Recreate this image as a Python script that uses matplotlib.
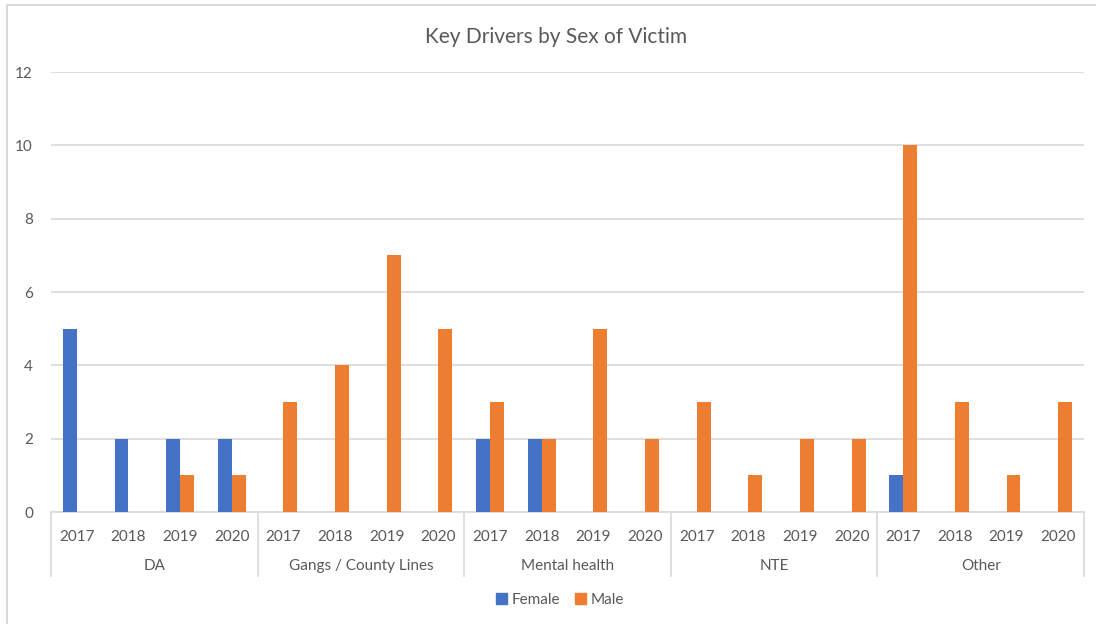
import matplotlib
matplotlib.use("Agg")
import matplotlib.pyplot as plt
import matplotlib.transforms as mtransforms
from matplotlib.patches import Rectangle, Patch
import numpy as np

plt.rcParams['font.family'] = ['Lato', 'DejaVu Sans']

groups = ["DA", "Gangs / County Lines", "Mental health", "NTE", "Other"]
years = ["2017", "2018", "2019", "2020"]
female = [5, 2, 2, 2,  0, 0, 0, 0,  2, 2, 0, 0,  0, 0, 0, 0,  1, 0, 0, 0]
male   = [0, 0, 1, 1,  3, 4, 7, 5,  3, 2, 5, 2,  3, 1, 2, 2,  10, 3, 1, 3]

blue = "#4472C4"
orange = "#ED7D31"
grey_text = "#595959"
grid_c = "#D9D9D9"

fig = plt.figure(figsize=(10.96, 6.24), dpi=100)
ax = fig.add_axes([51/1096, 1-512/624, (1084-51)/1096, (512-72)/624])

n = len(female)
x = np.arange(n)
w = 0.27
ax.bar(x - w/2, female, width=w, color=blue, label="Female", zorder=3)
ax.bar(x + w/2, male, width=w, color=orange, label="Male", zorder=3)

ax.set_xlim(-0.5, n - 0.5)
ax.set_ylim(0, 12)
ax.set_yticks(range(0, 13, 2))
ax.yaxis.grid(True, color=grid_c, linewidth=1.2, zorder=0)
ax.set_axisbelow(True)
for s in ["top", "right", "left"]:
    ax.spines[s].set_visible(False)
ax.spines["bottom"].set_color(grid_c)
ax.spines["bottom"].set_linewidth(1.2)
ax.tick_params(axis="y", length=0, pad=13, labelsize=11, labelcolor=grey_text)
ax.set_xticks(x)
ax.set_xticklabels(years * len(groups))
ax.tick_params(axis="x", length=0, pad=13, labelsize=11, labelcolor=grey_text)

trans = mtransforms.blended_transform_factory(ax.transData, ax.transAxes)
sep_bottom = -(576-512)/440
for i in range(len(groups) + 1):
    xs = i * 4 - 0.5
    ax.plot([xs, xs], [0, sep_bottom], transform=trans, color=grid_c,
            linewidth=1.2, clip_on=False)
for i, g in enumerate(groups):
    ax.text(i * 4 + 1.5, -(566-512)/440, g, transform=trans, ha="center",
            va="center", fontsize=11, color=grey_text)

fig.text(556/1096, 1-37/624, "Key Drivers by Sex of Victim", ha="center",
         va="center", fontsize=15, color=grey_text)

handles = [Patch(color=blue, label="Female"), Patch(color=orange, label="Male")]
fig.legend(handles=handles, loc="center", bbox_to_anchor=(560/1096, 1-600/624),
           ncol=2, frameon=False, fontsize=11, handlelength=0.7, handleheight=0.7,
           handletextpad=0.3, columnspacing=1.0, labelcolor=grey_text)

fig.patches.append(Rectangle((7/1096, -0.01), 1.02, 1-5/624 + 0.01,
                             transform=fig.transFigure, fill=False,
                             edgecolor=grid_c, linewidth=1.5))

fig.savefig("out.png", dpi=100)
